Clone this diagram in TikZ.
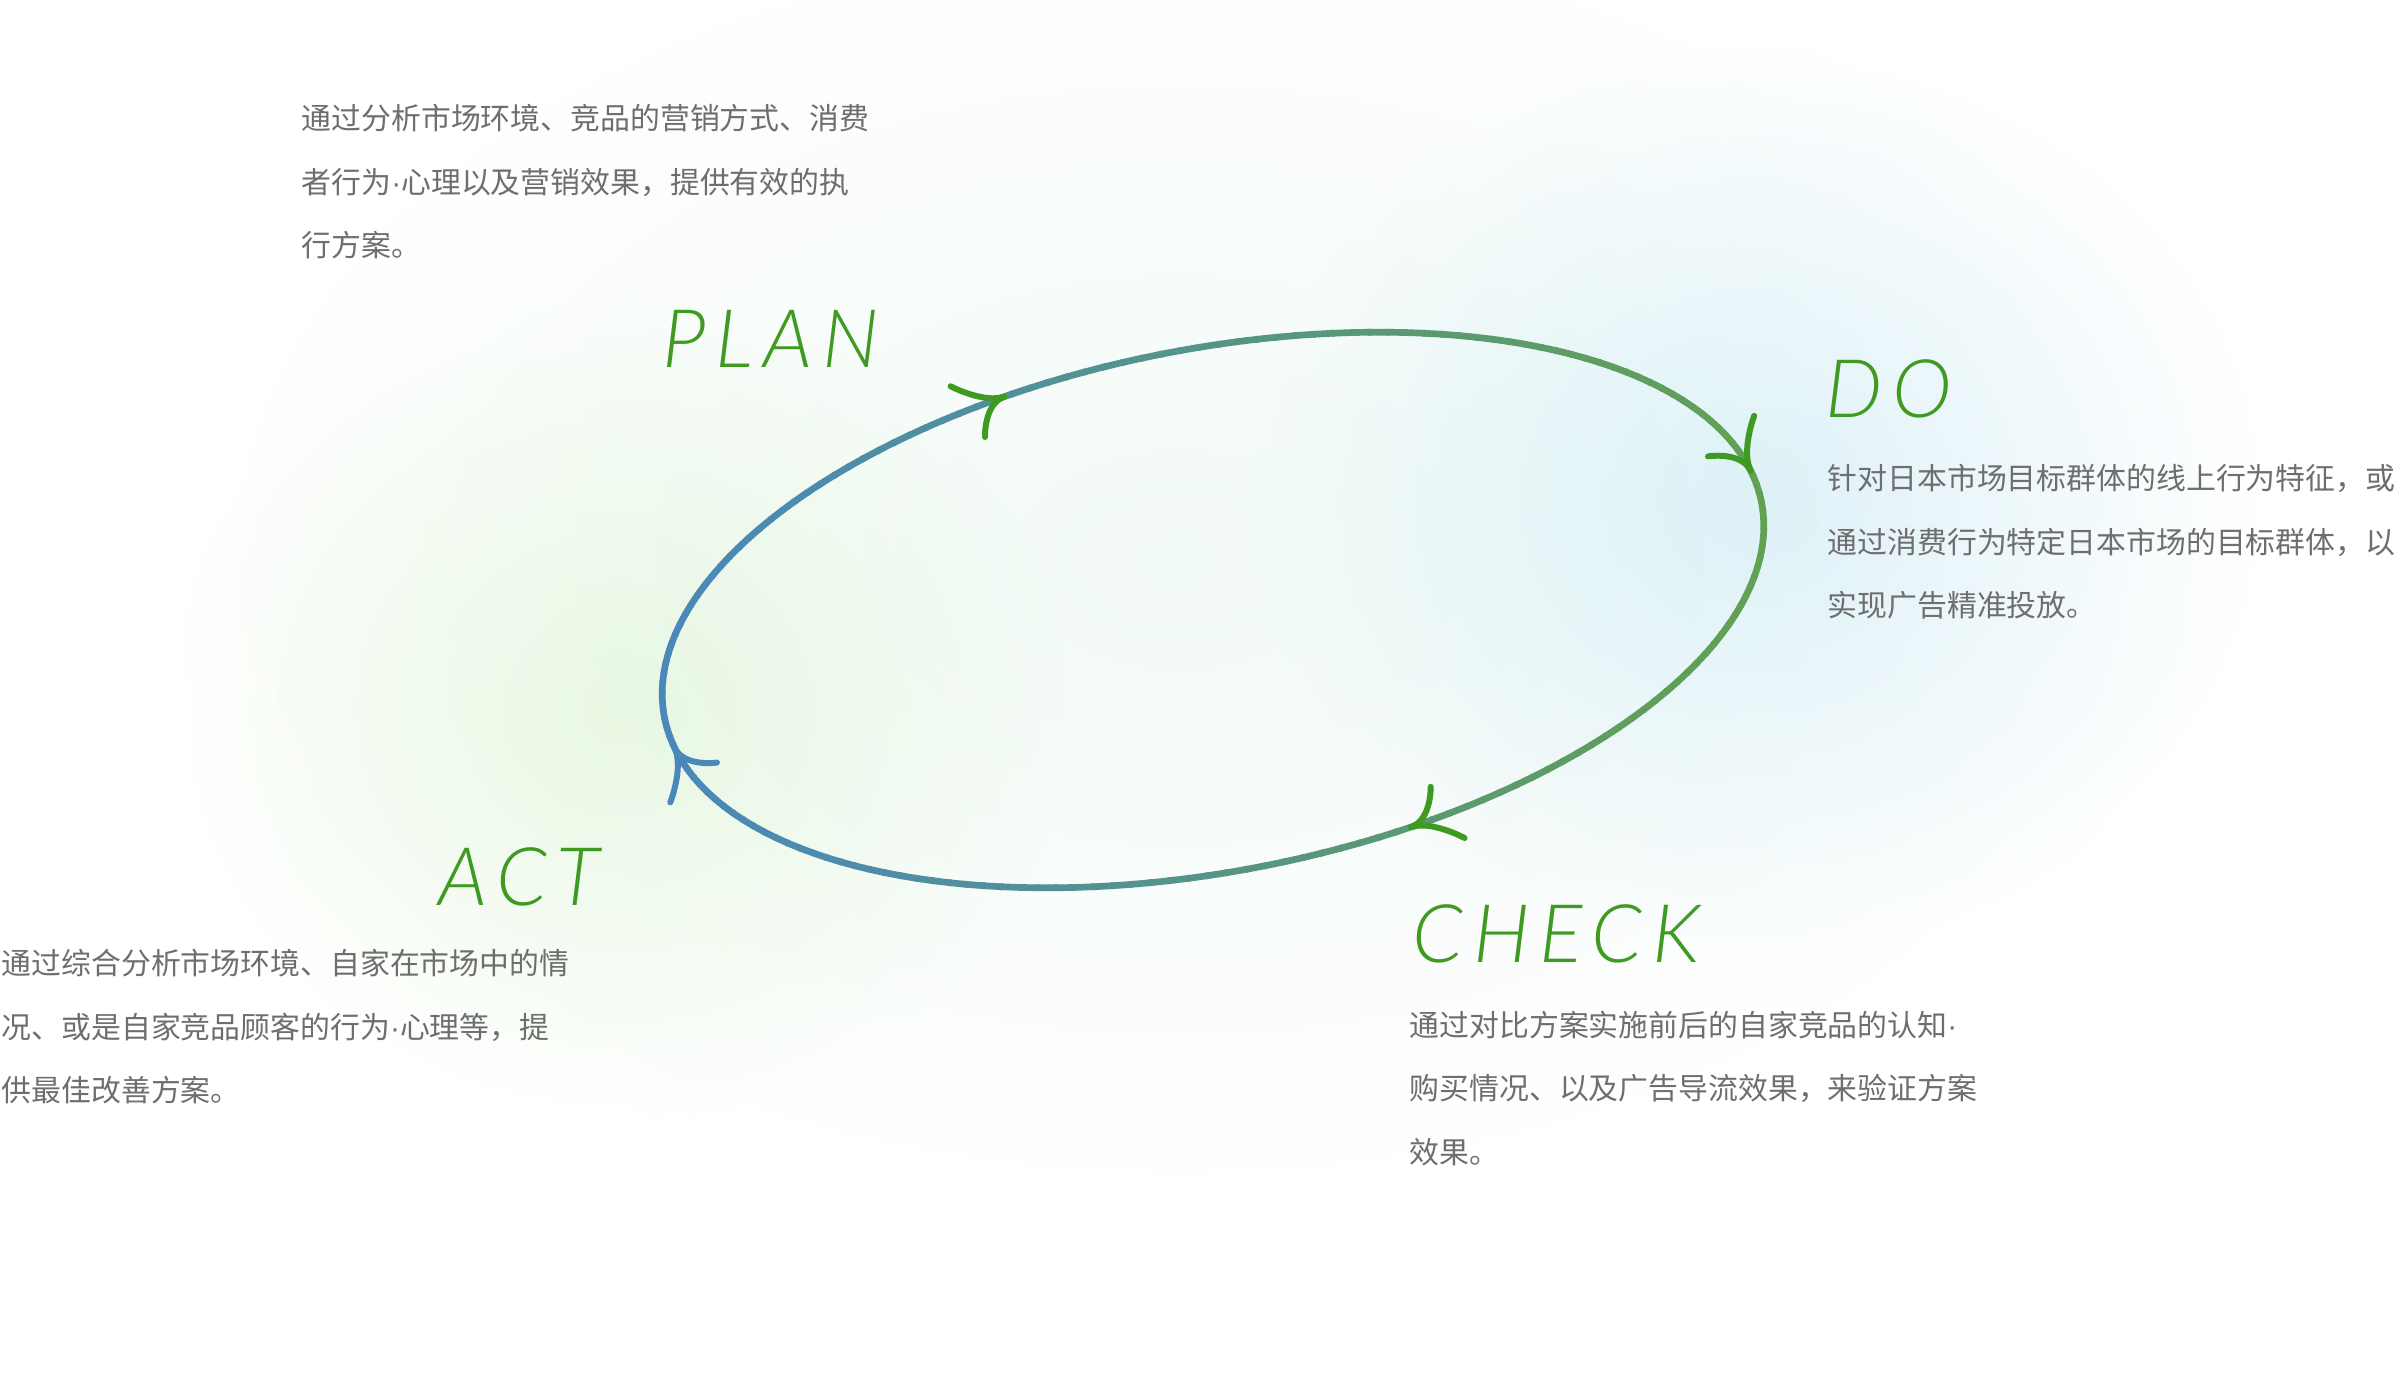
\documentclass[tikz,border=0pt]{standalone}
\usepackage{fontspec}
\usetikzlibrary{positioning}
\newfontfamily\cjkfont{Noto Sans CJK SC}
\newfontfamily\dotfont{Liberation Sans}
\newfontfamily\stagefont{Lato Light Italic}[LetterSpace=12]
\newcommand\mdot{{\dotfont ·}}
\definecolor{ringblue}{HTML}{4A88BB}
\definecolor{ringgreen}{HTML}{62A152}
\definecolor{barbgreen}{HTML}{3E9A20}
\definecolor{stagegreen}{HTML}{3F9A22}
\definecolor{notegray}{HTML}{6E6E6E}
\definecolor{glowbase}{HTML}{F2FAF6}
\definecolor{glowblue}{HTML}{E3F3FB}
\definecolor{glowgreen}{HTML}{EDF9E6}
\tikzset{
  stage/.style={font=\stagefont\fontsize{23}{23}\selectfont, text=stagegreen,
                anchor=base west, inner sep=0pt},
  note/.style={font=\cjkfont\fontsize{8.5}{18.2}\selectfont, text=notegray,
               align=left, anchor=north west, inner sep=0pt},
  glow/.style={blend mode=multiply, inner color=#1, outer color=white},
  barb/.style={line width=1.7pt, line cap=round, barbgreen},
}
% barb pair at ellipse angle #1, looking back along #2
\newcommand\ringbarb[3]{%
  \draw[barb, #3] (#1:5.59 and 2.61) .. controls +(#2:0.22) and +(0,0) .. +(#2-30:0.55)
                  (#1:5.59 and 2.61) .. controls +(#2:0.22) and +(0,0) .. +(#2+45:0.45);
}

\begin{document}
\begin{tikzpicture}
  \useasboundingbox (0,0) rectangle (23.96,-13.74);
  \fill[white] (0,0) rectangle (23.96,-13.74);

  % soft background
  \shade[glow=glowbase] (11.80,-5.60) ellipse (10.5 and 6.8);
  \shade[glow=glowblue] (17.60,-5.00) ellipse (5.2 and 4.6);
  \shade[glow=glowgreen] (6.20,-7.10) ellipse (4.6 and 4.2);

  % ring
  \begin{scope}[shift={(12.13,-6.10)}, rotate=11.1]
    \foreach \t in {0,2,...,358}{
      \pgfmathsetmacro\ringmix{max(0,min(100,(5.59*cos(\t+1)*cos(11.1)-2.61*sin(\t+1)*sin(11.1)+5.51)/11.02*100))}
      \draw[line width=1.9pt, ringgreen!\ringmix!ringblue]
        (\t:5.59 and 2.61) arc[start angle=\t, end angle=\t+2.4, x radius=5.59, y radius=2.61];
    }
    \ringbarb{107}{188.1}{}
    \ringbarb{7.3}{105.3}{}
    \ringbarb{285.8}{7.5}{}
    \ringbarb{186.9}{284.5}{ringblue}
  \end{scope}

  \node[stage] (planlabel) at (6.62,-3.67) {PLAN};
  \node[stage] (dolabel) at (18.25,-4.17) {DO};
  \node[stage] (checklabel) at (14.12,-9.62) {CHECK};
  \node[stage] (actlabel) at (4.38,-9.05) {ACT};

  \node[note] (plannote) at (3.01,-1.03)
    {通过分析市场环境、竞品的营销方式、消费\\者行为\mdot 心理以及营销效果，提供有效的执\\行方案。};
  \node[note, below right=0.46cm and 0.02cm of dolabel.base west] (donote)
    {针对日本市场目标群体的线上行为特征，或\\通过消费行为特定日本市场的目标群体，以\\实现广告精准投放。};
  \node[note, below right=0.48cm and -0.03cm of checklabel.base west] (checknote)
    {通过对比方案实施前后的自家竞品的认知\mdot\\购买情况、以及广告导流效果，来验证方案\\效果。};
  \node[note] (actnote) at (0.01,-9.48)
    {通过综合分析市场环境、自家在市场中的情\\况、或是自家竞品顾客的行为\mdot 心理等，提\\供最佳改善方案。};
\end{tikzpicture}
\end{document}
